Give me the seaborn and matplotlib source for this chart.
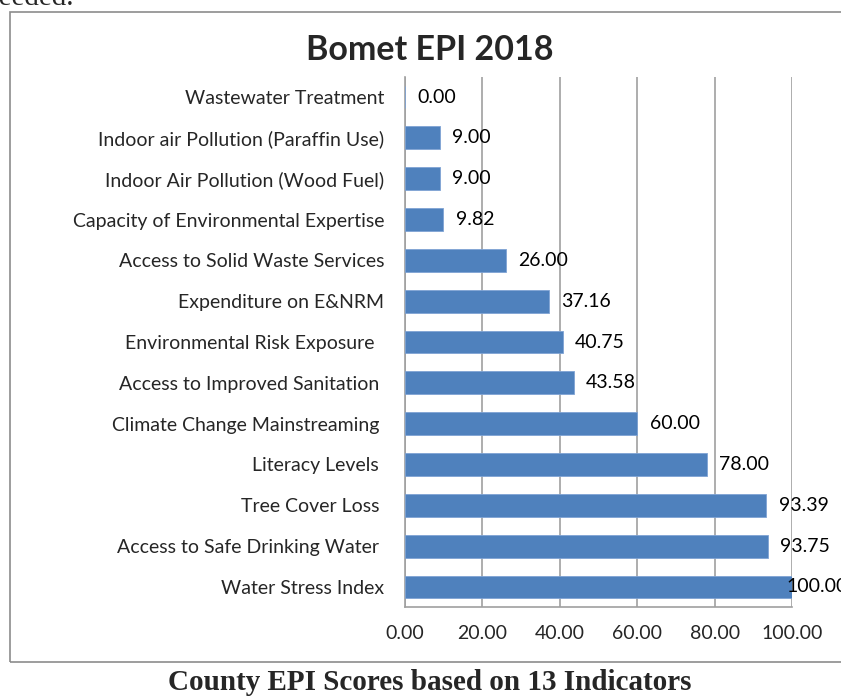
"""
Bomet EPI 2018 - county EPI scores by indicator (horizontal bar chart).
"""

import matplotlib
matplotlib.use("Agg")
import matplotlib.pyplot as plt
import seaborn as sns
import pandas as pd
from matplotlib.patches import Rectangle


indicators = [
    "Wastewater Treatment",
    "Indoor air Pollution (Paraffin Use)",
    "Indoor Air Pollution (Wood Fuel)",
    "Capacity of Environmental Expertise",
    "Access to Solid Waste Services",
    "Expenditure on E&NRM",
    "Environmental Risk Exposure  ",
    "Access to Improved Sanitation ",
    "Climate Change Mainstreaming ",
    "Literacy Levels ",
    "Tree Cover Loss ",
    "Access to Safe Drinking Water ",
    "Water Stress Index",
]
scores = [0.00, 9.00, 9.00, 9.82, 26.00, 37.16, 40.75, 43.58,
          60.00, 78.00, 93.39, 93.75, 100.00]
x_ticks = [0, 20, 40, 60, 80, 100]

BAR_COLOR = "#4F81BD"
GRID_COLOR = "#A0A0A0"
W, H = 841, 697
FS = 14

df = pd.DataFrame({"indicator": indicators, "score": scores})

sns.set_style("white")
plt.rcParams["font.family"] = ["Lato", "DejaVu Sans"]

fig = plt.figure(figsize=(W / 100, H / 100), dpi=100)
ax = fig.add_axes([405 / W, 1 - 607.4 / H, 387 / W, 530.8 / H])

sns.barplot(data=df, x="score", y="indicator", orient="h", color=BAR_COLOR,
            saturation=1, width=0.56, edgecolor="#7FA3D4", linewidth=0.6,
            ax=ax, zorder=3)

ax.set_xlim(0, 100)
ax.set_ylim(12.5, -0.5)
ax.set_xticks(x_ticks)
ax.set_xticklabels([f"{t:.2f}" for t in x_ticks], fontsize=FS)
ax.tick_params(axis="y", labelsize=FS, length=0, pad=15)
ax.tick_params(axis="x", length=0, pad=13)
ax.set_xlabel("")
ax.set_ylabel("")

ax.grid(axis="x", color=GRID_COLOR, linewidth=1.2, zorder=0)
for side in ["top", "right"]:
    ax.spines[side].set_visible(False)
for side in ["left", "bottom"]:
    ax.spines[side].set_color(GRID_COLOR)
    ax.spines[side].set_linewidth(1.2)

# value labels at the end of each bar; the full-length bar's label is
# pulled back a little, as the spreadsheet does at the plot edge
for i, v in enumerate(scores):
    dx = 9 if v < 100 else -4
    ax.annotate(f"{v:.2f}", xy=(v, i), xytext=(dx, 0), textcoords="offset points",
                ha="left", va="center", fontsize=FS, color="black",
                annotation_clip=False, zorder=5)

fig.text(430 / W, 1 - 50 / H, "Bomet EPI 2018", ha="center", va="center",
         fontsize=24.5, fontweight="bold")

# chart frame
fig.patches.append(Rectangle((10 / W, 1 - 662 / H), 1.0, 650 / H,
                             transform=fig.transFigure, fill=False,
                             edgecolor="#8C8C8C", linewidth=1.2))

# surrounding document text
fig.text(-16 / W, 1 - 5 / H, "needed.", ha="left", va="baseline",
         fontsize=21, family=["Liberation Serif"])
fig.text(430 / W, 1 - 683 / H, "County EPI Scores based on 13 Indicators",
         ha="center", va="center", fontsize=21, fontweight="bold",
         family=["Liberation Serif"])

fig.savefig("out.png", dpi=100)
